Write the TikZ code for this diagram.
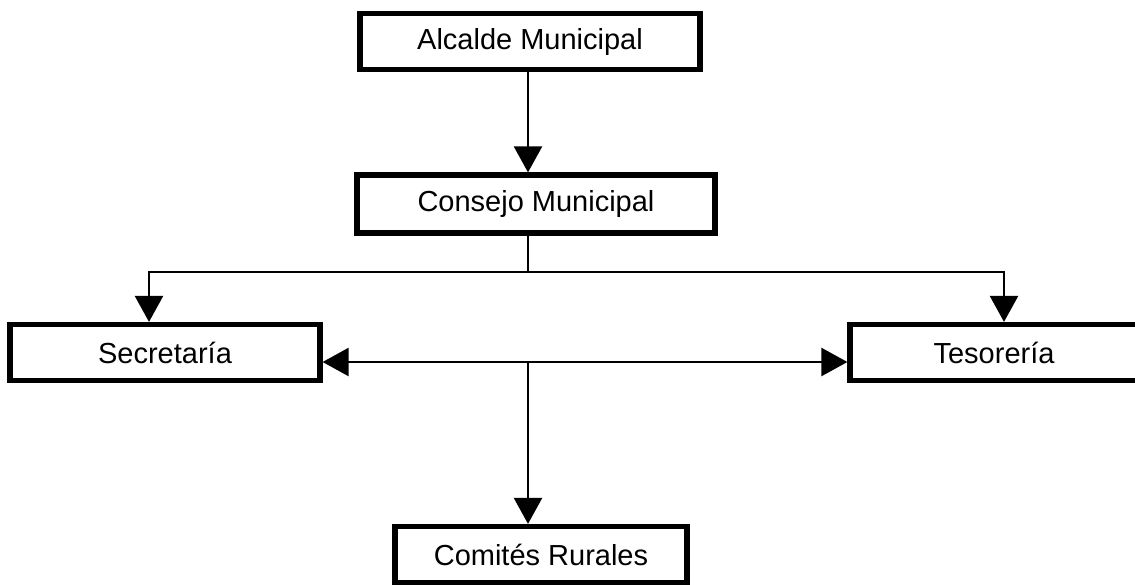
\documentclass[tikz,border=0pt]{standalone}
\usepackage{fontspec}
\setmainfont{Liberation Sans}
\usetikzlibrary{arrows.meta, positioning}

\begin{document}
\begin{tikzpicture}[x=0.5pt, y=-0.5pt,
      box/.style={draw, line width=2.6pt, minimum height=28pt, inner sep=0pt,
                  font=\fontsize{14.5}{17}\selectfont},
      arr/.style={-{Triangle[length=13pt, width=14pt]}, line width=1.2pt},
      dblarr/.style={{Triangle[length=13pt, width=14pt]}-{Triangle[length=13pt, width=14pt]},
                     line width=1.2pt}
    ]
      \useasboundingbox (0,0) rectangle (1135,584);
      \node[box, minimum width=170pt] (alc) at (530,41.5) {Alcalde Municipal};
      \node[box, minimum width=179pt, minimum height=29pt] (cons) at (536,204) {Consejo Municipal};
      \node[box, minimum width=155pt] (secr) at (165,352.5) {Secretaría};
      \node[box, minimum width=144pt] (teso) at (994,352.5) {Tesorería};
      \node[box, minimum width=146pt] (com) at (541,554.5) {Comités Rurales};

      \coordinate (split) at (528,272);
      \coordinate (mid) at (528,362);

      \draw[arr] (alc.south -| split) -- (cons.north -| split);
      \draw[arr] (cons.south -| split) -- (split) -| ([xshift=-8pt]secr.north);
      \draw[arr] (split) -| ([xshift=5pt]teso.north);
      \draw[dblarr] (secr.east |- mid) -- (teso.west |- mid);
      \draw[arr] (mid) -- (com.north -| mid);
    \end{tikzpicture}
\end{document}
